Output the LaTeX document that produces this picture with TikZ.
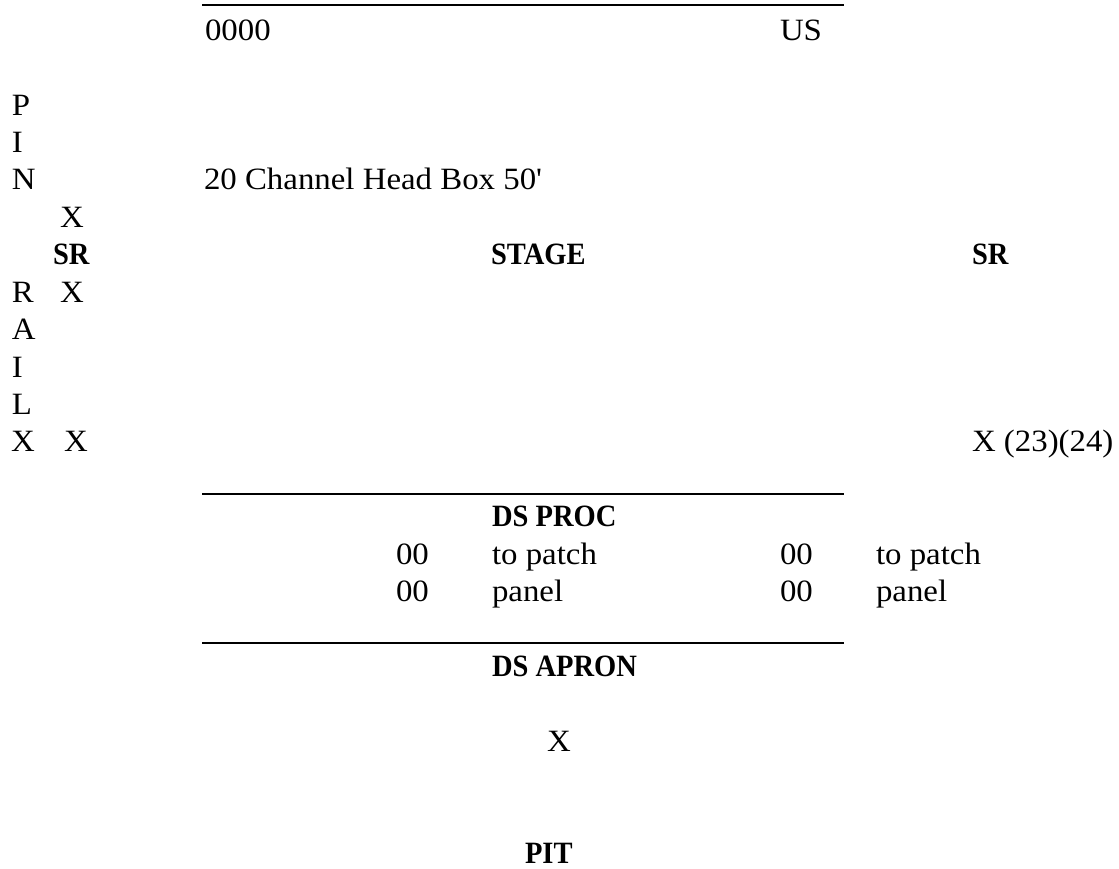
\documentclass[tikz,border=0pt]{standalone}
\usepackage{fontspec}
\setmainfont{Liberation Serif}[FakeStretch=1.06]
\newfontface\bfface{Liberation Serif Bold}[FakeStretch=0.92]
\begin{document}
\begin{tikzpicture}[x=1pt,y=-1pt,
  txt/.style={anchor=base west,inner sep=0pt,outer sep=0pt,font=\fontsize{31}{37}\selectfont},
  bld/.style={anchor=base west,inner sep=0pt,outer sep=0pt,font=\fontsize{31}{37}\selectfont\bfface},
  rule/.style={line width=2.2pt}]
\useasboundingbox (0,0) rectangle (1119,869);
% rules
\coordinate (r1a) at (202,5);   \coordinate (r1b) at (844,5);
\coordinate (r2a) at (202,494); \coordinate (r2b) at (844,494);
\coordinate (r3a) at (202,643); \coordinate (r3b) at (844,643);
\draw[rule] (r1a) -- (r1b);
\draw[rule] (r2a) -- (r2b);
\draw[rule] (r3a) -- (r3b);
% top row
\node[txt] (zeros) at (205,40.4) {0000};
\node[txt] (us) at (780,40.4) {US};
% pin rail column
\node[txt] (p1) at (12,115.2) {P};
\node[txt] (p2) at (12,152.6) {I};
\node[txt] (p3) at (12,190) {N};
\node[txt] (head) at (204,190) {20 Channel Head Box 50\textquotesingle};
\node[txt] (x1) at (60,227.4) {X};
\node[bld] (srl) at (53,264.8) {SR};
\node[bld] (stage) at (491,264.8) {STAGE};
\node[bld] (srr) at (972,264.8) {SR};
\node[txt] (r1) at (12,302.2) {R};
\node[txt] (x2) at (60,302.2) {X};
\node[txt] (r2) at (12,339.6) {A};
\node[txt] (r3) at (12,377) {I};
\node[txt] (r4) at (12,414.4) {L};
\node[txt] (x3) at (11,451.8) {X};
\node[txt] (x4) at (64,451.8) {X};
\node[txt] (x5) at (972,451.8) {X (23)(24)};
% DS PROC
\node[bld] (dsproc) at (492,526.6) {DS PROC};
\node[txt] (a1) at (396,564) {00};
\node[txt] (a2) at (492,564) {to patch};
\node[txt] (a3) at (780,564) {00};
\node[txt] (a4) at (876,564) {to patch};
\node[txt] (b1) at (396,601.4) {00};
\node[txt] (b2) at (492,601.4) {panel};
\node[txt] (b3) at (780,601.4) {00};
\node[txt] (b4) at (876,601.4) {panel};
% DS APRON
\node[bld] (apron) at (492,676.2) {DS APRON};
\node[txt] (xa) at (547,751) {X};
\node[bld] (pit) at (525,863.2) {PIT};
\end{tikzpicture}
\end{document}
